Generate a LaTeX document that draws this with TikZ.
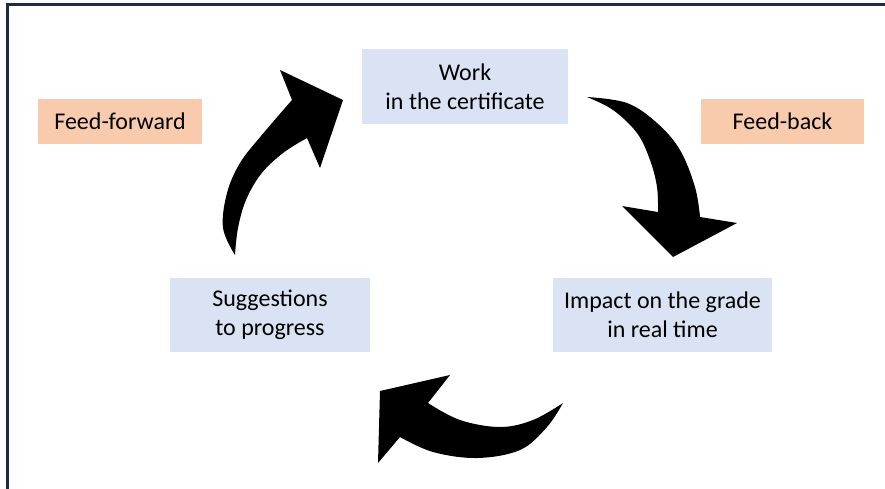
\documentclass[tikz,border=0pt]{standalone}
\usepackage{fontspec}
\setmainfont{Carlito}
\definecolor{navy}{HTML}{1F2A44}
\definecolor{boxblue}{HTML}{DAE3F3}
\definecolor{boxorange}{HTML}{F8CBAD}
\begin{document}
\begin{tikzpicture}[x=1pt,y=-1pt,
  stepbox/.style={fill=boxblue, inner sep=0pt, align=center, text=black,
    font=\fontsize{24}{29}\selectfont},
  tagbox/.style={fill=boxorange, inner sep=0pt, align=center, text=black,
    font=\fontsize{24}{29}\selectfont},
  bigarrow/.style={fill=black}]
\useasboundingbox (0,0) rectangle (885,488);
\fill[white] (0,0) rectangle (885,488);
% frame
\draw[navy, line width=3pt] (7.5,490) -- (7.5,4.8) -- (887,4.8);
% boxes
\node[stepbox, minimum width=206pt, minimum height=75pt] (work) at (465,86.5) {Work\\in the certificate};
\node[stepbox, minimum width=219pt, minimum height=74pt] (impact) at (662.5,315) {Impact on the grade\\in real time};
\node[stepbox, minimum width=200pt, minimum height=74pt] (sugg) at (270,315) {Suggestions\\to progress};
\node[tagbox, minimum width=164pt, minimum height=45pt] (ff) at (120,121.5) {Feed-forward};
\node[tagbox, minimum width=163pt, minimum height=45pt] (fb) at (782.5,121.5) {Feed-back};
% arrow: suggestions -> work
\fill[bigarrow] (235,255) -- plot[smooth, tension=0.6] coordinates {(235,255) (223,228) (227,193) (240,163) (261,136) (292,100)}
  -- (280,70) -- (343,100) -- (320,168)
  -- plot[smooth, tension=0.6] coordinates {(307,138) (283,153) (261,174) (246,200) (238,228) (235,255)} -- cycle;
% arrow: work -> impact
\fill[bigarrow] (587,97) -- plot[smooth, tension=0.6] coordinates {(587,97) (627,103) (657,123) (680,150) (695,187) (700,217)}
  -- (737,223) -- (673,257) -- (622,206)
  -- plot[smooth, tension=0.6] coordinates {(658,212) (657,187) (650,160) (637,133) (613,110) (587,97)} -- cycle;
% arrow: impact -> suggestions
\fill[bigarrow] (563,403) -- plot[smooth, tension=0.6] coordinates {(563,403) (533,420) (500,427) (460,420) (428,403)}
  -- (450,375) -- (380,391) -- (378,463)
  -- plot[smooth, tension=0.6] coordinates {(400,437) (433,452) (477,458) (520,450) (547,427) (563,403)} -- cycle;
\end{tikzpicture}
\end{document}
